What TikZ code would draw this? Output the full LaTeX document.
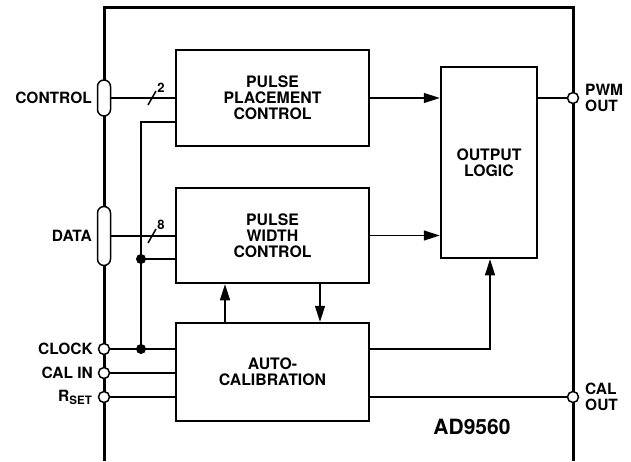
\documentclass[tikz,border=0pt]{standalone}
\usepackage{fontspec}
\setmainfont{TeX Gyre Heros}
\usetikzlibrary{arrows.meta}
\begin{document}
\begin{tikzpicture}[x=1pt,y=-1pt,
  blk/.style={draw,line width=2.5pt,inner sep=0pt,align=center,font=\fontsize{15.8}{16}\selectfont\bfseries},
  wire/.style={line width=1.5pt},
  arr/.style={wire,-{Triangle[length=16pt,width=10pt]}},
  pin/.style={circle,draw,fill=white,line width=1.5pt,minimum size=11pt,inner sep=0pt},
  pill/.style={draw,fill=white,line width=1.5pt,rounded corners=6.5pt,minimum width=13pt,inner sep=0pt},
  dot/.style={circle,fill=black,minimum size=10pt,inner sep=0pt},
  lbl/.style={inner sep=0pt,font=\fontsize{15.5}{16}\selectfont\bfseries},
  num/.style={inner sep=0pt,font=\fontsize{13}{13}\selectfont\bfseries}]
\useasboundingbox (0,0) rectangle (631,461);
% chip outline
\coordinate (bl) at (104,461);
\coordinate (tl) at (104,7);
\coordinate (tr) at (573,7);
\coordinate (br) at (573,461);
\draw[line width=3pt] (bl) -- (tl) -- (tr) -- (br);
% blocks
\node[blk,minimum width=193pt,minimum height=96pt] (ppc) at (272.5,98) {PULSE\\PLACEMENT\\CONTROL};
\node[blk,minimum width=193pt,minimum height=95pt] (pwc) at (272.5,235.5) {PULSE\\WIDTH\\CONTROL};
\node[blk,minimum width=96pt,minimum height=191pt] (ol) at (489,162.5) {OUTPUT\\LOGIC};
\node[blk,minimum width=193pt,minimum height=98pt] (ac) at (272.5,372) {AUTO-\\CALIBRATION};
% pins
\node[pill,minimum height=36pt] (ctrl) at (104,98) {};
\node[pill,minimum height=59pt] (data) at (104,236) {};
\node[pin] (clk) at (104,349) {};
\node[pin] (calin) at (104,373) {};
\node[pin] (rset) at (104,397) {};
\node[pin] (pwm) at (573,98) {};
\node[pin] (calout) at (573,397) {};
% labels
\node[lbl,anchor=east] (lctrl) at (92,98) {CONTROL};
\node[lbl,anchor=east] (ldata) at (92,236) {DATA};
\node[lbl,anchor=east] (lclk) at (93,349) {CLOCK};
\node[lbl,anchor=east] (lcalin) at (93,373) {CAL IN};
\node[lbl,anchor=east] (lrset) at (92,397) {R\raisebox{-0.35ex}{\fontsize{11.5}{12}\selectfont SET}};
\node[lbl,anchor=west,align=left] (lpwm) at (585,98) {PWM\\OUT};
\node[lbl,anchor=west,align=left] (lcal) at (585,397) {CAL\\OUT};
\node[inner sep=0pt,font=\fontsize{21}{22}\selectfont\bfseries] (name) at (472,427) {AD9560};
% inputs
\draw[wire] (ctrl.east) -- (ctrl.east -| ppc.west);
\draw[wire] (data.east) -- (data.east -| pwc.west);
\coordinate (s2a) at (148,105); \coordinate (s2b) at (156,91);
\draw[wire] (s2a) -- (s2b);
\node[num] (n2) at (161,88) {2};
\coordinate (s8a) at (148,243); \coordinate (s8b) at (156,229);
\draw[wire] (s8a) -- (s8b);
\node[num] (n8) at (161,225) {8};
\coordinate (ck1) at (141,122);
\node[dot] (d1) at (141,259) {};
\node[dot] (d2) at (141,349) {};
\draw[wire] (ck1 -| ppc.west) -- (ck1) -- (d2.center);
\draw[wire] (d1.center) -- (d1 -| pwc.west);
\draw[wire] (clk.east) -- (clk -| ac.west);
\draw[line width=1.9pt] (calin.east) -- (calin -| ac.west);
\draw[wire] (rset.east) -- (rset -| ac.west);
% internal
\draw[arr] (ppc.east) -- (ppc.east -| ol.west);
\draw[arr] (pwc.east) -- (pwc.east -| ol.west);
\draw[wire] (ol.east |- pwm) -- (pwm.west);
\coordinate (acup) at (225,323);
\coordinate (acdn) at (320,283);
\draw[arr] (acup) -- (acup |- pwc.south);
\draw[arr] (acdn) -- (acdn |- ac.north);
\coordinate (c1) at (490,349);
\draw[arr] (c1 -| ac.east) -- (c1) -- (c1 |- ol.south);
\draw[wire] (calout -| ac.east) -- (calout.west);
\end{tikzpicture}
\end{document}
